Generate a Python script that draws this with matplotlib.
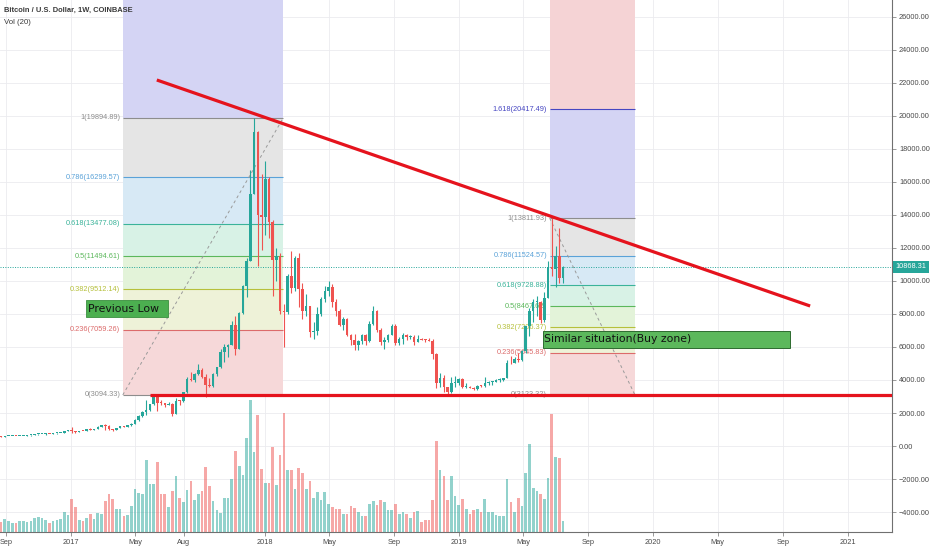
import matplotlib
matplotlib.use('Agg')
import matplotlib.pyplot as plt
import matplotlib.dates as mdates
import matplotlib.transforms as mtransforms
from matplotlib.patches import Rectangle
import numpy as np
import pandas as pd

plt.rcParams['font.family'] = ['Liberation Sans', 'DejaVu Sans']

# weekly BTCUSD (Coinbase), first bar = week of 2016-08-22
first_open = 580
close = [575, 608, 608, 609, 600, 610, 617, 640, 655, 700, 705, 708, 740, 730, 765, 775, 790, 895, 998,
         905, 820, 920, 915, 1020, 1000, 1050, 1180, 1270, 1230, 1030, 965, 1090, 1200, 1180, 1250, 1350,
         1560, 1790, 2050, 2200, 2520, 2950, 2600, 2590, 2500, 2520, 1950, 2750, 2720, 3250, 4050, 4000,
         4350, 4600, 4200, 3700, 3650, 4380, 4770, 5680, 5980, 6150, 7350, 5900, 8050, 9700, 11200, 15300,
         19000, 14000, 13850,
         16200, 13600, 11300, 11500, 8200, 8100, 10300, 9600, 11400, 9500, 8200, 8500, 6900, 6950, 8000,
         8900, 9400, 9650, 8700, 8200, 7350, 7700, 6750, 6450, 6150, 6380, 6750, 6350, 7400, 8200, 7030,
         6300, 6400, 6700, 7300, 6250, 6500, 6700, 6600, 6620, 6300, 6500, 6450, 6400, 6380, 5600, 3800,
         4100, 3550, 3250, 3800, 3830,
         4050, 3550, 3580, 3540, 3450, 3650, 3620, 3820, 3850, 3900, 4000, 4020, 4100, 5050, 5000, 5300,
         5200, 5750, 7250, 8200, 8700, 8750, 7650, 8950, 10850, 10750, 11500, 10200, 10868.31]
high = [590, 612, 630, 612, 610, 612, 620, 645, 660, 720, 745, 740, 760, 750, 770, 780, 795, 935, 1000,
        1150, 910, 935, 925, 1030, 1070, 1060, 1195, 1290, 1330, 1250, 1050, 1100, 1210, 1210, 1260, 1380,
        1620, 1850, 2100, 2760, 2550, 3000, 3000, 2800, 2600, 2680, 2580, 2900, 2800, 3300, 4200, 4480,
        4420, 4980, 4700, 4390, 4100, 4400, 4800, 5850, 6200, 6200, 7600, 7900, 8100, 9750, 11400, 16700,
        19890, 19100, 16500,
        17250, 16300, 13700, 12000, 11700, 8600, 10400, 11800, 11500, 11700, 9900, 9200, 8500, 7500, 8400,
        9000, 9700, 9990, 9800, 8900, 8300, 7800, 7750, 6800, 6800, 6400, 6800, 6780, 7600, 8500, 8250,
        7150, 6600, 6800, 7400, 7400, 6600, 6850, 6800, 6700, 6700, 6700, 6530, 6500, 6550, 6500, 5650,
        4400, 4300, 3600, 4200, 4250,
        4100, 4100, 3800, 3650, 3550, 3700, 3700, 4200, 3950, 3950, 4050, 4100, 4150, 5200, 5450, 5400,
        5650, 5800, 7300, 8350, 8900, 9100, 8800, 9350, 11200, 13812, 12100, 13200, 10900]
low = [570, 570, 600, 600, 592, 598, 608, 612, 625, 650, 685, 700, 695, 725, 725, 755, 770, 790, 880,
       810, 760, 820, 885, 910, 940, 990, 1050, 1170, 1000, 940, 890, 960, 1080, 1160, 1170, 1240,
       1340, 1540, 1780, 1900, 2100, 2510, 2100, 2500, 2350, 2480, 1830, 1950, 2480, 2650, 3200, 3950,
       3900, 4300, 4100, 2980, 3550, 3600, 4250, 4750, 5100, 5400, 6100, 5500, 5850, 8000, 9000, 11200,
       15300, 10900, 11900,
       12800, 12600, 9100, 10000, 8000, 6000, 8000, 9300, 9400, 8400, 7700, 7900, 6600, 6500, 6700,
       7900, 8700, 9100, 8400, 7900, 7250, 7050, 6650, 6150, 5800, 5800, 6200, 6100, 6300, 7350, 6900,
       6100, 5900, 6300, 6700, 6100, 6150, 6200, 6450, 6500, 6100, 6300, 6420, 6300, 6350, 5300, 3500,
       3600, 3300, 3150, 3200, 3550,
       3700, 3500, 3500, 3500, 3400, 3400, 3580, 3600, 3700, 3700, 3850, 3900, 3950, 4100, 4950, 5000,
       5100, 5150, 5650, 6650, 7500, 7900, 7450, 7500, 8950, 10300, 9650, 9900, 9900]
# volume, thousand BTC (approx)
volume = [10, 13, 11, 9, 9, 11, 11, 10, 11, 14, 15, 14, 12, 9, 11, 12, 13, 20, 17, 33,
          25, 12, 11, 14, 18, 13, 19, 18, 31, 38, 33, 23, 23, 16, 17, 26, 43, 39, 38, 72,
          48, 48, 70, 38, 38, 25, 41, 56, 34, 30, 42, 51, 32, 38, 41, 65, 46, 31, 22, 19,
          34, 34, 53, 81, 66, 57, 94, 132, 80, 117, 63, 49, 49, 85, 47, 77, 119,
          62, 62, 43, 64, 59, 43, 51, 34, 40, 32, 40, 28, 25, 23, 23, 18, 18, 26, 24, 20, 16, 16, 28,
          31, 27, 32, 30, 22, 22, 28, 18, 20, 18, 14, 20, 21, 10, 12, 12, 32, 91, 62, 56,
          32, 56, 36, 27, 33, 23, 18, 22, 23, 20, 33, 20, 20, 17, 16, 16, 53, 30, 20, 34,
          26, 59, 88, 44, 41, 38, 33, 54, 118, 75, 74, 11]
last_price = 10868.31

tick_dates = ['2016-09-01', '2017-01-01', '2017-05-01', '2017-08-01', '2018-01-01', '2018-05-01',
              '2018-09-01', '2019-01-01', '2019-05-01', '2019-09-01', '2020-01-01', '2020-05-01',
              '2020-09-01', '2021-01-01']
tick_labels = ['Sep', '2017', 'May', 'Aug', '2018', 'May', 'Sep', '2019', 'May', 'Sep', '2020', 'May',
               'Sep', '2021']

fib_ratios = [0, 0.236, 0.382, 0.5, 0.618, 0.786, 1, 1.618, 2.618]
fib_fill = ['#f6d8d9', '#eef2d8', '#e3f3d9', '#d8f2e6', '#d7e9f5', '#e5e5e5', '#d4d4f4', '#f5d3d5']
fib_line = ['#8d8d8d', '#dc6b6b', '#b6c03c', '#5cb85c', '#3bb39a', '#5aa2d8', '#8d8d8d', '#4646c2', '#dc6b6b']
fibs = [
    dict(start='2017-04-08', end='2018-02-04', low=3094.33, high=19894.89, rising=True),
    dict(start='2019-06-20', end='2019-11-27', low=3123.32, high=13811.93, rising=False),
]
trend_dates = ['2017-06-11', '2020-10-22']
trend_prices = [22182, 8485]
support_start = '2017-05-29'
support_price = 3120

d2n = lambda s: mdates.date2num(pd.Timestamp(s))
x_left, x_right = d2n('2016-08-20'), d2n('2021-03-25')
y_low, y_high = -5212, 27030

dates = pd.date_range('2016-08-22', periods=len(close), freq='7D')
x = mdates.date2num(dates)
o = np.array([first_open] + close[:-1], dtype=float)
c = np.array(close, dtype=float)
h = np.array(high, dtype=float)
l = np.array(low, dtype=float)
up_col, dn_col = '#26a69a', '#ef5350'
col = np.where(c >= o, up_col, dn_col)

fig = plt.figure(figsize=(9.32, 5.5), dpi=100)
rect = [0, 18 / 550, 892 / 932, 532 / 550]
ax = fig.add_axes(rect)
ax.set_xlim(x_left, x_right)
ax.set_ylim(y_low, y_high)

# grid
ax.set_axisbelow(True)
ax.grid(True, color='#ebebef', lw=0.6)

# fib retracements
for f in fibs:
    xa, xb = d2n(f['start']), d2n(f['end'])
    vals = [f['low'] + r * (f['high'] - f['low']) for r in fib_ratios]
    for i in range(len(vals) - 1):
        ax.fill_between([xa, xb], vals[i], vals[i + 1], color=fib_fill[i], lw=0, zorder=1)
    for r, v, lc in zip(fib_ratios, vals, fib_line):
        if v > y_high:
            continue
        ax.hlines(v, xa, xb, color=lc, lw=0.8, zorder=2)
        ax.text(xa - 5, v, f'{r:g}({v:.2f})', ha='right', va='center', color=lc,
                fontsize=5.3, zorder=2)
    if f['rising']:
        ax.plot([xa, xb], [f['low'], f['high']], color='#9a9a9a', lw=0.7, ls=(0, (3, 3)), zorder=3)
    else:
        ax.plot([xa, xb], [f['high'], f['low']], color='#9a9a9a', lw=0.7, ls=(0, (3, 3)), zorder=3)

# candles
ax.vlines(x, l, h, colors=col, lw=0.8, zorder=4)
ax.bar(x, np.maximum(np.abs(c - o), 60), bottom=np.minimum(o, c), width=4.8, color=col, lw=0, zorder=4)

# last price
ax.axhline(last_price, color=up_col, ls=(0, (1, 1.5)), lw=0.7, zorder=3)
tr = mtransforms.blended_transform_factory(ax.transAxes, ax.transData)
ax.text(1.004, last_price, f'{last_price:.2f}', transform=tr, ha='left', va='center', fontsize=5.3,
        color='white', clip_on=False, zorder=10,
        bbox=dict(boxstyle='square,pad=0.35', fc=up_col, ec='none'))

# trend lines
ax.plot([d2n(d) for d in trend_dates], trend_prices, color='#e5131d', lw=2.3, solid_capstyle='butt', zorder=6)
ax.plot([d2n(support_start), x_right], [support_price, support_price], color='#e5131d', lw=2.3,
        solid_capstyle='butt', zorder=6)

# annotations
box1 = Rectangle((d2n('2017-01-29'), 7818), d2n('2017-07-02') - d2n('2017-01-29'), 1030,
                 fc='#4caf50', ec='#3b8f3f', lw=0.6, zorder=7)
ax.add_patch(box1)
ax.text(d2n('2017-02-01'), 8333, 'Previous Low', family='DejaVu Sans', fontsize=7.8, color='#111111',
        va='center', ha='left', zorder=8)
box2 = Rectangle((d2n('2019-06-07'), 5940), d2n('2020-09-14') - d2n('2019-06-07'), 1030,
                 fc='#5cb85c', ec='#2e6b30', lw=0.7, zorder=7)
ax.add_patch(box2)
ax.text(d2n('2019-06-10'), 6455, 'Similar situation(Buy zone)', family='DejaVu Sans', fontsize=7.8,
        color='#111111', va='center', ha='left', zorder=8)

# axes styling
ax.yaxis.tick_right()
yt = list(range(-4000, 26001, 2000))
ax.set_yticks(yt)
ax.set_yticklabels([f'{v:.2f}'.replace('-', '\u2212') for v in yt])
ax.set_xticks([d2n(d) for d in tick_dates])
ax.set_xticklabels(tick_labels)
ax.tick_params(axis='both', labelsize=5.3, labelcolor='#4a4a4a', color='#888888', length=3, width=0.6,
               pad=2)
for s in ['top', 'left']:
    ax.spines[s].set_visible(False)
for s in ['right', 'bottom']:
    ax.spines[s].set_color('#707070')
    ax.spines[s].set_linewidth(0.8)

# volume pane on top
vax = fig.add_axes(rect, sharex=ax)
vax.set_zorder(ax.get_zorder() + 1)
vax.patch.set_visible(False)
vax.bar(x, volume, width=5, color=col, alpha=0.5, lw=0)
vax.set_ylim(0, 532)
vax.axis('off')
ax.set_xlim(x_left, x_right)

fig.text(4 / 932, 1 - 10 / 550, 'Bitcoin / U.S. Dollar, 1W, COINBASE', fontsize=5.4, color='#3a3a3a',
         weight='bold', va='center', ha='left')
fig.text(4 / 932, 1 - 23 / 550, 'Vol (20)', fontsize=5.6, color='#3a3a3a', va='center', ha='left')

fig.savefig('out.png', dpi=100, facecolor='white')
